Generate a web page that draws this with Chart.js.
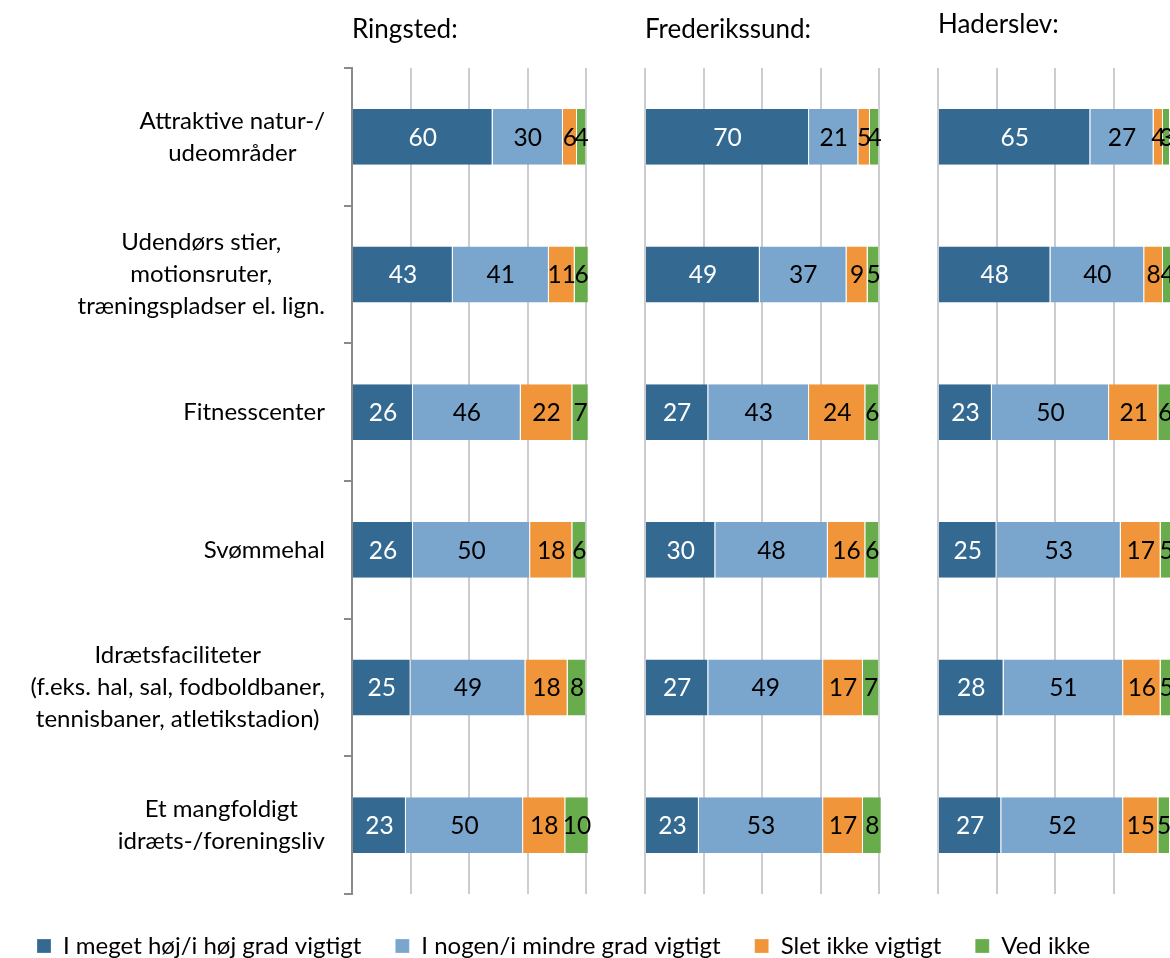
<!DOCTYPE html>
<html>
<head>
<meta charset="utf-8">
<script src="https://cdn.jsdelivr.net/npm/chart.js"></script>
<style>
  html, body { margin: 0; padding: 0; background: #fff; overflow: hidden; }
  #chart { display: block; }
</style>
</head>
<body>
<canvas id="chart" width="1170" height="968"></canvas>
<script>
// kategorier (y-aksen)
const categories = [
  ['Attraktive natur-/', 'udeområder'],
  ['Udendørs stier,', 'motionsruter,', 'træningspladser el. lign.'],
  ['Fitnesscenter'],
  ['Svømmehal'],
  ['Idrætsfaciliteter', '(f.eks. hal, sal, fodboldbaner,', 'tennisbaner, atletikstadion)'],
  ['Et mangfoldigt', 'idræts-/foreningsliv']
]
const cities = ['Ringsted:', 'Frederikssund:', 'Haderslev:']
const seriesNames = ['I meget høj/i høj grad vigtigt', 'I nogen/i mindre grad vigtigt', 'Slet ikke vigtigt', 'Ved ikke']
const seriesColors = ['#346a92', '#7aa6ce', '#f0953a', '#69ac4c']
const xTicks = [0, 25, 50, 75, 100]

// Ringsted
const ringstedHigh = [60, 43, 26, 26, 25, 23]
const ringstedSome = [30, 41, 46, 50, 49, 50]
const ringstedNot = [6, 11, 22, 18, 18, 18]
const ringstedDontKnow = [4, 6, 7, 6, 8, 10]
// Frederikssund
const frederikssundHigh = [70, 49, 27, 30, 27, 23]
const frederikssundSome = [21, 37, 43, 48, 49, 53]
const frederikssundNot = [5, 9, 24, 16, 17, 17]
const frederikssundDontKnow = [4, 5, 6, 6, 7, 8]
// Haderslev
const haderslevHigh = [65, 48, 23, 25, 28, 27]
const haderslevSome = [27, 40, 50, 53, 51, 52]
const haderslevNot = [4, 8, 21, 17, 16, 15]
const haderslevDontKnow = [3, 4, 6, 5, 5, 5]

const cityValues = [
  [ringstedHigh, ringstedSome, ringstedNot, ringstedDontKnow],
  [frederikssundHigh, frederikssundSome, frederikssundNot, frederikssundDontKnow],
  [haderslevHigh, haderslevSome, haderslevNot, haderslevDontKnow]
]

const FONT = 'Lato'
const gridColor = '#cdcdd1'
const axisColor = '#8a8a8a'

const datasets = []
cityValues.forEach((values, c) => {
  values.forEach((arr, s) => {
    datasets.push({
      label: seriesNames[s],
      data: arr,
      xAxisID: 'x' + (c + 1),
      backgroundColor: seriesColors[s],
      borderColor: '#ffffff',
      borderWidth: { right: 1 },
      borderSkipped: 'start',
      categoryPercentage: 1,
      barPercentage: 0.406
    })
  })
})

// x-akse pr. by, stablet side om side (125 = panel + mellemrum)
// weight: top-bokse placeres med højeste weight først (længst til venstre)
function cityAxis(c, max, stackWeight, padTop, padBottom) {
  return {
    type: 'linear',
    position: 'top',
    stack: 'cities',
    stackWeight: stackWeight,
    weight: 3 - c,
    stacked: true,
    min: 0,
    max: max,
    afterBuildTicks: (scale) => {
      scale.ticks = xTicks.filter(v => v <= max).map(v => ({ value: v }))
    },
    ticks: { display: false },
    grid: { color: gridColor, lineWidth: 2, drawTicks: false },
    border: { display: false },
    title: {
      display: true,
      text: cities[c],
      align: 'start',
      color: '#000',
      font: { family: FONT, size: 26, lineHeight: 1.2 },
      padding: { top: padTop, bottom: padBottom }
    }
  }
}

// kategori-tekst: blok højrestillet, linjer centreret
const categoryLabels = {
  id: 'categoryLabels',
  afterDraw(chart) {
    const ctx = chart.ctx
    const yScale = chart.scales.y
    const right = chart.chartArea.left - 27
    ctx.save()
    ctx.font = '24px ' + FONT
    ctx.fillStyle = '#000'
    ctx.textAlign = 'center'
    ctx.textBaseline = 'middle'
    categories.forEach((lines, i) => {
      const widest = Math.max(...lines.map(l => ctx.measureText(l).width))
      const cx = right - widest / 2
      const cy = yScale.getPixelForValue(i)
      lines.forEach((line, j) => {
        ctx.fillText(line, cx, cy + (j - (lines.length - 1) / 2) * 32)
      })
    })
    ctx.restore()
  }
}

// tal i søjlerne
const valueLabels = {
  id: 'valueLabels',
  afterDatasetsDraw(chart) {
    const ctx = chart.ctx
    ctx.save()
    ctx.font = '24.5px ' + FONT
    ctx.textAlign = 'center'
    ctx.textBaseline = 'middle'
    chart.data.datasets.forEach((ds, di) => {
      const meta = chart.getDatasetMeta(di)
      ctx.fillStyle = di % 4 === 0 ? '#ffffff' : '#000000'
      meta.data.forEach((bar, i) => {
        const p = bar.getCenterPoint()
        ctx.fillText(ds.data[i], p.x, p.y + 1)
      })
    })
    ctx.restore()
  }
}

const myChart = new Chart(document.getElementById('chart'), {
  type: 'bar',
  data: { labels: categories, datasets: datasets },
  options: {
    indexAxis: 'y',
    responsive: false,
    animation: false,
    devicePixelRatio: 1,
    layout: { padding: { left: 3, top: 0, right: 0, bottom: 0 } },
    scales: {
      y: {
        stacked: true,
        afterFit: (scale) => { scale.width = 349 },
        ticks: { display: false },
        grid: { drawOnChartArea: false, drawTicks: true, tickLength: 8, color: axisColor, lineWidth: 2 },
        border: { display: true, color: axisColor, width: 2 }
      },
      x1: cityAxis(0, 125, 125, 14.4, 22.4),
      x2: cityAxis(1, 125, 125, 14.4, 22.4),
      x3: cityAxis(2, 99, 99, 9.4, 27.4)
    },
    plugins: {
      tooltip: { enabled: false },
      legend: {
        position: 'bottom',
        align: 'start',
        title: { display: true, text: '', padding: 0, font: { size: 6, lineHeight: 1 } },
        labels: {
          filter: (item) => item.datasetIndex < 4,
          boxWidth: 14,
          boxHeight: 14,
          padding: 34,
          color: '#000',
          font: { family: FONT, size: 24 }
        }
      }
    }
  },
  plugins: [categoryLabels, valueLabels]
})
</script>
</body>
</html>
